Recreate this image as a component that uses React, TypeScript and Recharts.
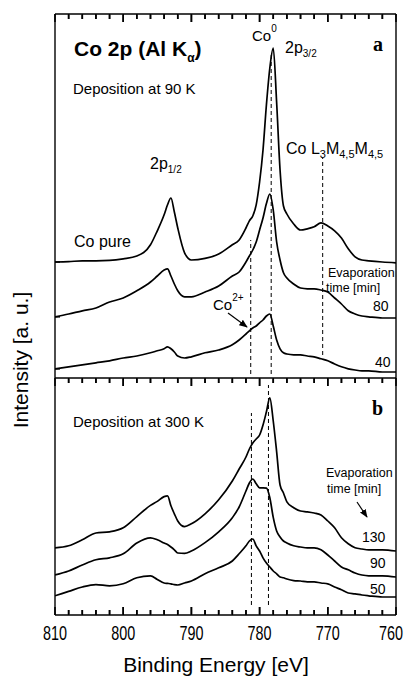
import { LineChart, Line, XAxis, YAxis, ReferenceLine } from 'recharts'

// binding energy grid (eV), shared by all six spectra
const energy = [
  810, 808, 806, 804, 802, 800, 798, 796,
  795, 794, 793.5, 793, 792.5, 792,
  791, 790, 788, 786, 784, 783, 782,
  781.5, 781, 780.5, 780, 779.5, 779, 778.5, 778, 777.5, 777, 776.5, 776,
  775, 774, 773, 772, 771, 770, 769, 768, 767, 766, 765, 764,
  762, 760,
]

// panel a - deposition at 90 K (offset intensities, a.u.)
const coPure = [
  29, 29.1, 29.3, 29.3, 29.4, 29.8, 30.5, 33.3,
  36.8, 40.8, 43.3, 45, 41.5, 37.5,
  31.3, 29.5, 29.9, 31, 33.3, 34.5, 37.5,
  39.3, 40.5, 43.3, 49, 57, 68.3, 77.5, 82.5, 68.8, 52, 43, 41,
  38.5, 37, 37.3, 37.8, 38.8, 38, 36.8, 35, 32.3, 30.3, 29.5, 29.3,
  29, 28.8,
]
const min80 = [
  15.3, 16, 16.8, 17.5, 19, 20, 21.8, 24,
  25.5, 27, 27.3, 25.5, 23.5, 21.8,
  20.3, 20.3, 21.5, 23, 25.5, 26.5, 29,
  30.5, 32, 34, 37, 40, 43.6, 46, 42, 34, 29.5, 26.3, 25,
  23.5, 22.5, 22.3, 22.3, 22, 21.5, 20, 18.5, 16.8, 16, 15.5, 15.3,
  15, 15,
]
const min40 = [
  2.3, 2.8, 3.3, 3.8, 4.3, 5, 5.5, 6.3,
  6.8, 7.3, 7.8, 7.3, 6.5, 5.5,
  5, 5.3, 6.3, 7, 8.3, 9.5, 11,
  11.8, 12.5, 13, 13.8, 14.5, 15.5, 16, 13, 9.5, 7.3, 6.3, 6,
  5.8, 5.8, 5.5, 5.3, 4.8, 4.3, 3.5, 2.8, 2.3, 2, 1.8, 1.8,
  1.5, 1.5,
]

// panel b - deposition at 300 K
const min130 = [
  16.8, 17.3, 18.8, 20.5, 20.8, 21.8, 24.6, 27.4,
  28.4, 29.6, 29.8, 27.3, 25.3, 23.5,
  22.1, 22.8, 25.3, 28.8, 33.5, 36.5, 39.5,
  41.5, 43, 44, 45, 47.5, 50.8, 54.3, 48.5, 40.8, 32.5, 30.5, 28.3,
  26.8, 26, 25.8, 25.5, 25, 23.5, 21.8, 19.3, 17.8, 16.8, 16.5, 16.3,
  16.3, 16,
]
const min90 = [
  10, 11, 12.5, 13.8, 14.3, 15.3, 18, 19.3,
  18.8, 18, 17.6, 17, 16.3, 15.5,
  15.4, 16, 18.1, 20.8, 24.3, 27, 31,
  33, 34, 32.8, 31.8, 31.8, 31.7, 29.3, 24.4, 21, 19.5, 18.5, 18,
  17.3, 17, 16.8, 16.8, 16.3, 15, 13.5, 12, 11.3, 10.5, 10, 9.8,
  9.8, 9.5,
]
const min50 = [
  4.8, 5.9, 7, 7.6, 7.3, 7.8, 9.3, 9.8,
  8.9, 8, 7.9, 7.8, 7.6, 7.5,
  8, 8.5, 10.3, 11.8, 13.5, 15.3, 17.3,
  18.5, 19, 17.3, 16, 14.3, 13, 12, 11, 10.3, 9.5, 9.3, 9,
  8.6, 8.5, 8.3, 8.3, 8, 7.8, 7, 6.3, 5.5, 5.3, 5, 4.8,
  4.5, 4.5,
]

const energyTicks = [810, 808, 806, 804, 802, 800, 798, 796, 794, 792, 790, 788, 786, 784, 782, 780, 778, 776, 774, 772, 770, 768, 766, 764, 762, 760]
const innerTicks = energyTicks.filter((v) => v !== 810 && v !== 760)

// dashed markers: [energy, from, to]
const guidesA = [[778.3, 1, 80.75], [781.3, 1, 34.5], [770.75, 5.75, 55]]
const guidesB = [[781.2, 2.5, 50.5], [778.7, 2.5, 57.5]]

const TOP_A = 91
const TOP_B = 59.25
const MAJOR_LEN = 2 // intensity units, 4 px each
const MINOR_LEN = 1.25

const SANS = '"Liberation Sans", Arial, Helvetica, sans-serif'
const SERIF = '"Liberation Serif", "Times New Roman", serif'

const rowsA = energy.map((e, i) => ({ energy: e, pure: coPure[i], m80: min80[i], m40: min40[i] }))
const rowsB = energy.map((e, i) => ({ energy: e, m130: min130[i], m90: min90[i], m50: min50[i] }))

const isMajor = (v: number) => v % 10 === 0
const frame = { stroke: '#000', strokeWidth: 1.4 }

const TopTick = (props: any) => {
  const { x, y, payload } = props
  return <path d={`M${x},${y}V${y + (isMajor(payload.value) ? 8 : 5)}`} stroke="#000" strokeWidth={1.6} fill="none" />
}

const BottomTick = (props: any) => {
  const { x, y, payload } = props
  const major = isMajor(payload.value)
  return (
    <g>
      <path d={`M${x},${y}V${y - (major ? 8 : 5)}`} stroke="#000" strokeWidth={1.6} fill="none" />
      {major && (
        <text x={Math.min(x, 391)} y={y + 25} textAnchor="middle" fontSize={20} fontFamily={SANS} fill="#000"
          textLength={24} lengthAdjust="spacingAndGlyphs">
          {payload.value}
        </text>
      )}
    </g>
  )
}

const LeftTick = (props: any) => {
  const { x, y } = props
  return <path d={`M${x},${y}H${x + 5}`} stroke="#000" strokeWidth={1.6} fill="none" />
}

// same inward ticks as reference segments, kept just inside the plot edge
function edgeTicks(at: number, dir: number, keyPrefix: string) {
  return innerTicks.map((v) => (
    <ReferenceLine key={`${keyPrefix}${v}`} xAxisId="e" yAxisId="i" stroke="#000" strokeWidth={1.6}
      segment={[{ x: v, y: at + dir * 0.2 }, { x: v, y: at + dir * (isMajor(v) ? MAJOR_LEN : MINOR_LEN) }]} />
  ))
}

const lineProps = {
  type: 'monotone' as const,
  stroke: '#000',
  strokeWidth: 1.7,
  dot: false,
  isAnimationActive: false,
}

const edgeX = {
  type: 'number' as const,
  dataKey: 'energy',
  domain: [760, 810],
  reversed: true,
  ticks: energyTicks,
  interval: 0,
  tickSize: 0,
  tickMargin: 0,
  tickLine: false,
  axisLine: frame,
  allowDataOverflow: true,
}

export default function App() {
  return (
    <div style={{ position: 'absolute', left: 0, top: 0, width: 407, height: 676, background: '#fff' }}>
      <div style={{ position: 'absolute', left: 0, top: 0 }}>
        <LineChart width={407} height={378} data={rowsA} margin={{ top: 13, right: 10, bottom: 0, left: 54 }}>
          <XAxis xAxisId="e" orientation="top" height={1} tick={TopTick} {...edgeX} />
          <YAxis yAxisId="i" type="number" domain={[0, TOP_A]} ticks={[coPure[0], min80[0], min40[0]]}
            interval={0} width={1} tickSize={0} tickMargin={0} tickLine={false} axisLine={frame}
            tick={LeftTick} allowDataOverflow />
          <YAxis yAxisId="r" orientation="right" type="number" domain={[0, TOP_A]} ticks={[0]}
            width={1} tick={false} tickLine={false} axisLine={frame} />
          {edgeTicks(TOP_A, -1, 'a')}
          {guidesA.map(([e, y1, y2], i) => (
            <ReferenceLine key={`g${i}`} xAxisId="e" yAxisId="i" segment={[{ x: e, y: y1 }, { x: e, y: y2 }]}
              stroke="#000" strokeWidth={1} strokeDasharray="4 3" />
          ))}
          <Line xAxisId="e" yAxisId="i" dataKey="pure" {...lineProps} />
          <Line xAxisId="e" yAxisId="i" dataKey="m80" {...lineProps} />
          <Line xAxisId="e" yAxisId="i" dataKey="m40" {...lineProps} />
        </LineChart>
      </div>

      <div style={{ position: 'absolute', left: 0, top: 377 }}>
        <LineChart width={407} height={299} data={rowsB} margin={{ top: 0, right: 10, bottom: 0, left: 54 }}>
          <XAxis xAxisId="t" orientation="top" height={1} tick={TopTick} {...edgeX} />
          <XAxis xAxisId="e" orientation="bottom" height={61} tick={BottomTick} {...edgeX} />
          <YAxis yAxisId="i" type="number" domain={[0, TOP_B]} ticks={[0]} width={1}
            tick={false} tickLine={false} axisLine={frame} allowDataOverflow />
          <YAxis yAxisId="r" orientation="right" type="number" domain={[0, TOP_B]} ticks={[0]}
            width={1} tick={false} tickLine={false} axisLine={frame} />
          {edgeTicks(TOP_B, -1, 't')}
          {edgeTicks(0, 1, 'b')}
          {guidesB.map(([e, y1, y2], i) => (
            <ReferenceLine key={`g${i}`} xAxisId="e" yAxisId="i" segment={[{ x: e, y: y1 }, { x: e, y: y2 }]}
              stroke="#000" strokeWidth={1} strokeDasharray="4 3" />
          ))}
          <Line xAxisId="e" yAxisId="i" dataKey="m130" {...lineProps} />
          <Line xAxisId="e" yAxisId="i" dataKey="m90" {...lineProps} />
          <Line xAxisId="e" yAxisId="i" dataKey="m50" {...lineProps} />
        </LineChart>
      </div>

      {/* annotations */}
      <svg width={407} height={676} style={{ position: 'absolute', left: 0, top: 0, pointerEvents: 'none' }}
        fontFamily={SANS} fill="#000">
        <defs>
          <marker id="ah" viewBox="0 0 10 10" refX="9" refY="5" markerWidth="7" markerHeight="7" orient="auto">
            <path d="M0,1 L10,5 L0,9 z" fill="#000" />
          </marker>
        </defs>

        <text x={74} y={56} fontSize={21} fontWeight="bold">
          Co 2p (Al K<tspan fontSize={12} dy={6}>α</tspan><tspan dy={-6}>)</tspan>
        </text>
        <text x={73} y={94} fontSize={15}>Deposition at 90 K</text>
        <text x={252} y={41} fontSize={15}>Co<tspan fontSize={10} dy={-9}>0</tspan></text>
        <text x={285} y={53} fontSize={16}>2p<tspan fontSize={10} dy={4}>3/2</tspan></text>
        <text x={373} y={51} fontSize={20} fontWeight="bold" fontFamily={SERIF}>a</text>
        <text x={286} y={154} fontSize={16}>
          Co L<tspan fontSize={11} dy={4}>3</tspan><tspan dy={-4}>M</tspan><tspan fontSize={11} dy={4}>4,5</tspan><tspan dy={-4}>M</tspan><tspan fontSize={11} dy={4}>4,5</tspan>
        </text>
        <text x={150} y={169} fontSize={16}>2p<tspan fontSize={10} dy={4}>1/2</tspan></text>
        <text x={74} y={247} fontSize={16}>Co pure</text>
        <text x={328} y={277} fontSize={12.5}>Evaporation</text>
        <text x={326} y={292} fontSize={12.5}>time [min]</text>
        <text x={373} y={311} fontSize={14}>80</text>
        <text x={213} y={310} fontSize={15}>Co<tspan fontSize={10} dy={-9}>2+</tspan></text>
        <line x1={228} y1={313} x2={247} y2={327} stroke="#000" strokeWidth={1.2} markerEnd="url(#ah)" />
        <text x={375} y={367} fontSize={14}>40</text>

        <text x={372} y={415} fontSize={20} fontWeight="bold" fontFamily={SERIF}>b</text>
        <text x={73} y={427} fontSize={15}>Deposition at 300 K</text>
        <text x={326} y={477} fontSize={12.5}>Evaporation</text>
        <text x={327} y={493} fontSize={12.5}>time [min]</text>
        <line x1={357} y1={502} x2={367} y2={517} stroke="#000" strokeWidth={1.2} markerEnd="url(#ah)" />
        <text x={362} y={542} fontSize={14}>130</text>
        <text x={370} y={568} fontSize={14}>90</text>
        <text x={370} y={594} fontSize={14}>50</text>

        <text x={216} y={672} fontSize={21} textAnchor="middle">Binding Energy [eV]</text>
        <text transform="translate(28,360) rotate(-90)" fontSize={21} textAnchor="middle">Intensity [a. u.]</text>
      </svg>
    </div>
  )
}
